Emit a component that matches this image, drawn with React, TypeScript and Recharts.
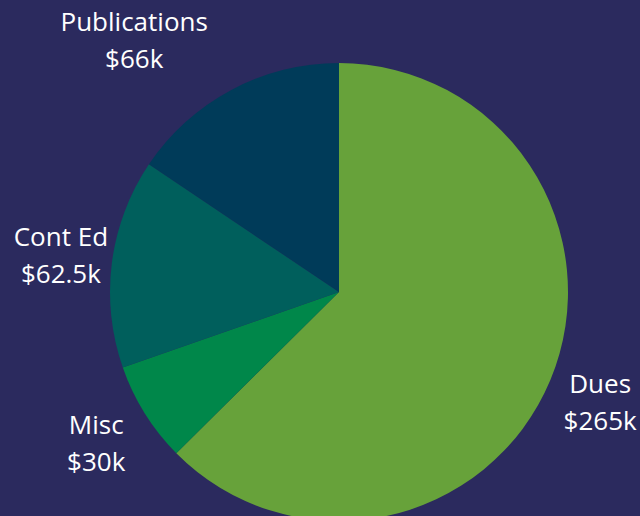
import { PieChart, Pie, Cell } from "recharts";

const categories = ["Dues", "Misc", "Cont Ed", "Publications"];
const amounts = [265, 30, 62.5, 66]; // thousands of dollars
const sliceColors = ["#67a23a", "#00874a", "#005f5c", "#003b59"];

const data = categories.map((name, i) => ({ name, value: amounts[i] }));

const FONT_SIZE = 26;
const LINE_GAP = 37;
const RADIAN = Math.PI / 180;

// outside label: placed past the rim along the mid angle, top/bottom labels slide sideways to clear the pie
function renderLabel(props: any) {
    const { cx, cy, midAngle, outerRadius, name, value } = props;
    const lines = [name, `$${value}k`];
    const w = Math.max(...lines.map((l: string) => l.length)) * FONT_SIZE * 0.5;
    const h = LINE_GAP + FONT_SIZE - 1;
    const cos = Math.cos(-midAngle * RADIAN);
    const sin = Math.sin(-midAngle * RADIAN);
    const r = outerRadius + 17;
    let x = cx + r * cos + Math.sign(cos) * h * 0.55;
    const sy = Math.max(-1, Math.min(1, sin * 1.3));
    const y = cy + r * sin + (h / 2) * sy - (sin < -0.7 ? 3 : 0);

    if (Math.abs(sin) > 0.7) {
        const clear = outerRadius + 25;
        const dir = cos < 0 ? -1 : 1;
        for (let i = 0; i < 300; i++) {
            const nx = Math.max(x - w / 2, Math.min(cx, x + w / 2));
            const ny = Math.max(y - h / 2, Math.min(cy, y + h / 2));
            if (Math.hypot(nx - cx, ny - cy) >= clear) break;
            x += dir;
        }
    }

    return (
        <text
            x={x}
            y={y}
            fill="#ffffff"
            textAnchor="middle"
            fontFamily="'Open Sans', sans-serif"
            fontSize={FONT_SIZE}
        >
            <tspan x={x} y={y - LINE_GAP / 2 + 9}>{lines[0]}</tspan>
            <tspan x={x} y={y + LINE_GAP / 2 + 9}>{lines[1]}</tspan>
        </text>
    );
}

export default function App() {
    return (
        <div
            style={{
                position: "absolute",
                left: 0,
                top: 0,
                width: 640,
                height: 516,
                background: "#2b2a5e",
                overflow: "hidden",
            }}
        >
            <PieChart width={640} height={516} margin={{ top: 0, right: 0, bottom: 0, left: 0 }}>
                <Pie
                    data={data}
                    dataKey="value"
                    nameKey="name"
                    cx={339}
                    cy={292}
                    outerRadius={229}
                    startAngle={90}
                    endAngle={-270}
                    stroke="none"
                    labelLine={false}
                    label={renderLabel}
                    isAnimationActive={false}
                >
                    {data.map((d, i) => (
                        <Cell key={d.name} fill={sliceColors[i]} />
                    ))}
                </Pie>
            </PieChart>
        </div>
    );
}
